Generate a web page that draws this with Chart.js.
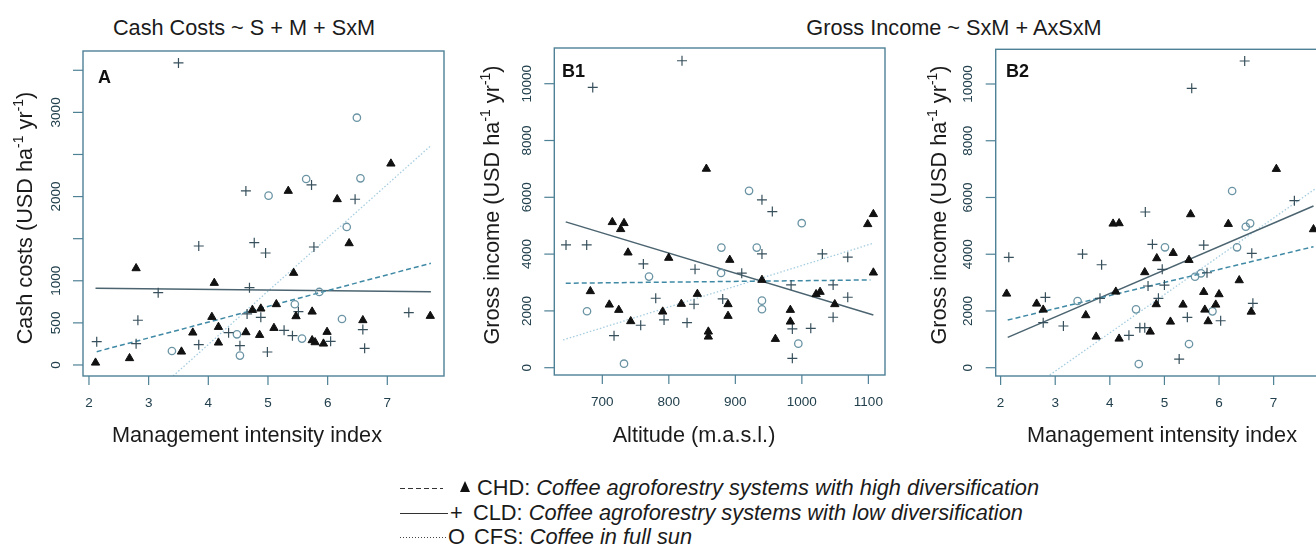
<!DOCTYPE html>
<html>
<head>
<meta charset="utf-8">
<script src="https://cdn.jsdelivr.net/npm/chart.js@4.4.1/dist/chart.umd.min.js"></script>
<style>
  body { margin: 0; width: 1316px; height: 547px; overflow: hidden; position: relative; background: #fff;
         font-family: "Liberation Sans", Arial, sans-serif; color: #1b1b1b; }
  canvas { position: absolute; top: 0; }
  .main-title { position: absolute; top: 15px; font-size: 21.7px; white-space: nowrap; transform: translateX(-50%); }
  .leg-line { position: absolute; height: 1.4px; }
  .leg-text { position: absolute; font-size: 21.8px; line-height: 24px; white-space: nowrap; }
  .tri { position: absolute; width: 0; height: 0; border-left: 5.5px solid transparent; border-right: 5.5px solid transparent; border-bottom: 11px solid #111; }
</style>
</head>
<body>
<div class="main-title" style="left:244px">Cash Costs ~ S + M + SxM</div>
<div class="main-title" style="left:954px">Gross Income ~ SxM + AxSxM</div>

<canvas id="panelA" width="460" height="460" style="left:0"></canvas>
<canvas id="panelB1" width="430" height="460" style="left:470px"></canvas>
<canvas id="panelB2" width="460" height="460" style="left:900px"></canvas>

<!-- legend -->
<div class="leg-line" style="left:400px; top:488px; width:43px; background:repeating-linear-gradient(to right,#333 0 5px,transparent 5px 8px)"></div>
<div class="tri" style="left:460px; top:481px"></div>
<div class="leg-text" style="left:477px; top:476px">CHD: <i>Coffee agroforestry systems with high diversification</i></div>
<div class="leg-line" style="left:400px; top:513px; width:48px; background:#333"></div>
<div class="leg-text" style="left:450px; top:501px">+</div>
<div class="leg-text" style="left:473px; top:501px">CLD: <i>Coffee agroforestry systems with low diversification</i></div>
<div class="leg-line" style="left:400px; top:537px; width:47px; background:repeating-linear-gradient(to right,#444 0 1.5px,transparent 1.5px 3px)"></div>
<div class="leg-text" style="left:448px; top:525px">O</div>
<div class="leg-text" style="left:474px; top:525px">CFS: <i>Coffee in full sun</i></div>

<script>
// ---- Panel A: cash costs (USD/ha/yr) vs management intensity index ----
const cashChd = [[2.11,27],[2.68,80],[2.79,1148],[3.55,158],[3.74,384],[4.06,570],[4.10,974],[4.17,451],[4.17,265],[4.63,388],[4.74,653],[4.86,356],[4.88,669],[5.10,439],[5.14,721],[5.34,2067],[5.43,1093],[5.47,578],[5.74,633],[5.74,293],[5.79,269],[5.93,253],[5.99,392],[6.16,1968],[6.36,1445],[6.59,531],[7.06,2391],[7.72,582]];
const cashCld = [[2.13,277],[2.79,253],[2.82,531],[3.16,859],[3.50,3587],[3.84,1413],[3.84,241],[4.34,384],[4.53,229],[4.63,2067],[4.65,606],[4.69,918],[4.77,1453],[4.88,566],[4.96,1330],[4.99,154],[5.27,412],[5.41,348],[5.51,633],[5.73,2138],[5.77,1401],[6.05,281],[6.46,1968],[6.59,420],[6.62,198],[7.36,622]];
const cashCfs = [[3.39,166],[4.48,364],[4.53,111],[5.01,2011],[5.45,721],[5.57,313],[5.64,2209],[5.86,867],[6.24,546],[6.32,1639],[6.49,2937],[6.55,2217]];
const cashFitChd = [[2.13,158],[7.73,1208]];
const cashFitCld = [[2.11,911],[7.73,871]];
const cashFitCfs = [[3.41,-131],[7.73,2606]];

// ---- Panel B1: gross income vs altitude ----
const altChd = [[682,2692],[710.5,2220],[715,5124],[724.7,2033],[727.6,4877],[732.6,5089],[738.6,4053],[742.7,1635],[790.8,1973],[799.8,3866],[818.8,2245],[842.9,2597],[856.4,7002],[859.4,1269],[859.4,1092],[889,2234],[889,1822],[891.6,3795],[940,3090],[960.2,1011],[982.7,2033],[982.7,1621],[1021.4,2587],[1027.4,2668],[1049.5,2234],[1099,5053],[1107.5,5406],[1107.5,3348]];
const altCld = [[645.4,4324],[676.5,4324],[685.6,9868],[717.6,1128],[757.7,1494],[761.7,3654],[780.3,2445],[792.8,1681],[819.8,10808],[827.4,1586],[837.9,2234],[839.4,3467],[881,2421],[909.6,3327],[940,5910],[940,4007],[955.6,5498],[983.8,2914],[985.7,1364],[985.7,331],[1013.4,1388],[1030.8,4007],[1047,2914],[1047,1776],[1069,3890],[1069,2481]];
const altCfs = [[677,1987],[732.6,141],[770.2,3207],[878.5,3337],[879,4229],[920.6,6227],[932.2,4229],[940,2361],[940,2058],[994.7,846],[999.8,5088]];
const altFitChd = [[645,2974],[1103,3090]];
const altFitCld = [[645,5134],[1107.5,1856]];
const altFitCfs = [[641,976],[1107.5,4384]];

// ---- Panel B2: gross income vs management intensity index ----
const incChd = [[2.11,2608],[2.66,2256],[2.78,2044],[3.56,1847],[3.75,1093],[4.06,5076],[4.11,2679],[4.17,5090],[4.17,1022],[4.64,3363],[4.74,1269],[4.85,2235],[4.86,3856],[5.11,1621],[5.16,4043],[5.34,2221],[5.45,3796],[5.48,5407],[5.72,2668],[5.74,2044],[5.80,1635],[5.94,2221],[6.00,2587],[6.17,5065],[6.37,3080],[6.59,1973],[7.05,7004],[7.73,4878]];
const incCld = [[2.15,3891],[2.78,1586],[2.82,2481],[3.15,1470],[3.50,4007],[3.82,2445],[3.85,3630],[4.35,1142],[4.55,1410],[4.64,1410],[4.65,5488],[4.70,2880],[4.78,4349],[4.89,2445],[4.96,3467],[5.00,2914],[5.27,306],[5.42,1776],[5.50,9849],[5.72,4324],[5.78,3348],[6.03,1656],[6.47,10811],[6.60,4031],[6.62,2269],[7.38,5886]];
const incCfs = [[3.41,2351],[4.48,2058],[4.53,130],[5.01,4244],[5.45,835],[5.56,3207],[5.67,3327],[5.88,1987],[6.24,6228],[6.33,4244],[6.49,4969],[6.57,5089]];
const incFitChd = [[2.13,1681],[7.73,4265]];
const incFitCld = [[2.13,1071],[7.73,5698]];
const incFitCfs = [[2.90,-257],[7.95,6559]];

// tick positions
const mgmtTicks = [2, 3, 4, 5, 6, 7];
const altTicks = [700, 800, 900, 1000, 1100];
const cashTicks = [0, 500, 1000, 1500, 2000, 2500, 3000, 3500];
const cashTickLabels = [0, 500, 1000, 2000, 3000];
const incomeTicks = [0, 2000, 4000, 6000, 8000, 10000];

const FONT = '"Liberation Sans", Arial, sans-serif';
const BOX_COLOR = '#4e8196';
const TICK_TEXT = '#22404d';

const toXY = (arr) => arr.map(([x, y]) => ({ x, y }));

// draws an R-style box, ticks, labels and titles around the chart area
const rAxes = {
  id: 'rAxes',
  afterDraw(chart, args, o) {
    const { ctx, chartArea: a, scales: { x, y } } = chart;
    ctx.save();
    ctx.strokeStyle = BOX_COLOR;
    ctx.lineWidth = 1.4;
    ctx.strokeRect(a.left, a.top, a.right - a.left, a.bottom - a.top);

    ctx.lineWidth = 1.2;
    ctx.fillStyle = TICK_TEXT;
    ctx.font = `13.5px ${FONT}`;
    ctx.textAlign = 'center';
    ctx.textBaseline = 'middle';
    o.xTicks.forEach(v => {
      const px = x.getPixelForValue(v);
      ctx.beginPath(); ctx.moveTo(px, a.bottom); ctx.lineTo(px, a.bottom + 9); ctx.stroke();
      ctx.fillText(String(v), px, a.bottom + 27);
    });
    o.yTicks.forEach(v => {
      const py = y.getPixelForValue(v);
      ctx.beginPath(); ctx.moveTo(a.left - 10, py); ctx.lineTo(a.left, py); ctx.stroke();
      if (o.yLabels.includes(v)) {
        ctx.save();
        ctx.translate(a.left - 27, py);
        ctx.rotate(-Math.PI / 2);
        ctx.fillText(String(v), 0, 0);
        ctx.restore();
      }
    });

    // axis titles
    ctx.fillStyle = '#1b1b1b';
    ctx.font = `21.7px ${FONT}`;
    ctx.fillText(o.xTitle, o.xTitleX, 436);

    ctx.save();
    ctx.translate(o.yTitleX, o.yTitleY);
    ctx.rotate(-Math.PI / 2);
    const segs = o.yTitle;
    const fontFor = s => s.sup ? `14px ${FONT}` : `21.7px ${FONT}`;
    let total = 0;
    segs.forEach(s => { ctx.font = fontFor(s); total += ctx.measureText(s.t).width; });
    let cx = -total / 2;
    ctx.textAlign = 'left';
    segs.forEach(s => {
      ctx.font = fontFor(s);
      ctx.fillText(s.t, cx, s.sup ? -7 : 0);
      cx += ctx.measureText(s.t).width;
    });
    ctx.restore();

    // panel letter
    ctx.font = `bold 18px ${FONT}`;
    ctx.textAlign = 'left';
    ctx.fillStyle = '#111';
    ctx.fillText(o.panel, o.panelX, o.panelY);
    ctx.restore();
  }
};

function incomeTitle() {
  return [{ t: 'Gross income (USD ha' }, { t: '-1', sup: true }, { t: ' yr' }, { t: '-1', sup: true }, { t: ')' }];
}

function makePanel(id, pts, fits, axes, pad, axisOpts) {
  const datasets = [
    { label: 'CHD', data: toXY(pts[0]), pointStyle: 'triangle', pointRadius: 4.8,
      backgroundColor: '#111', borderColor: '#111', borderWidth: 1 },
    { label: 'CLD', data: toXY(pts[1]), pointStyle: 'cross', pointRadius: 5,
      borderColor: '#37505c', borderWidth: 1.2 },
    { label: 'CFS', data: toXY(pts[2]), pointStyle: 'circle', pointRadius: 3.7,
      backgroundColor: 'rgba(0,0,0,0)', borderColor: '#6a94a4', borderWidth: 1.3 },
    { label: 'CHD fit', data: toXY(fits[0]), showLine: true, pointRadius: 0,
      borderColor: '#3f89a5', borderWidth: 1.5, borderDash: [5, 3] },
    { label: 'CLD fit', data: toXY(fits[1]), showLine: true, pointRadius: 0,
      borderColor: '#4b6470', borderWidth: 1.5 },
    { label: 'CFS fit', data: toXY(fits[2]), showLine: true, pointRadius: 0,
      borderColor: '#a6cde0', borderWidth: 1.3, borderDash: [1.5, 2] }
  ];
  new Chart(document.getElementById(id), {
    type: 'scatter',
    data: { datasets },
    options: {
      responsive: false,
      devicePixelRatio: 1,
      animation: false,
      events: [],
      layout: { padding: pad },
      scales: {
        x: { type: 'linear', display: false, min: axes[0], max: axes[1] },
        y: { type: 'linear', display: false, min: axes[2], max: axes[3] }
      },
      plugins: { legend: { display: false }, tooltip: { enabled: false }, rAxes: axisOpts }
    },
    plugins: [rAxes]
  });
}

makePanel('panelA', [cashChd, cashCld, cashCfs], [cashFitChd, cashFitCld, cashFitCfs],
  [1.9, 7.95, -131, 3729], { left: 83, top: 51, right: 16, bottom: 84 },
  { xTicks: mgmtTicks, yTicks: cashTicks, yLabels: cashTickLabels,
    xTitle: 'Management intensity index', xTitleX: 247,
    yTitle: [{ t: 'Cash costs (USD ha' }, { t: '-1', sup: true }, { t: ' yr' }, { t: '-1', sup: true }, { t: ')' }],
    yTitleX: 26, yTitleY: 218, panel: 'A', panelX: 98, panelY: 78 });

makePanel('panelB1', [altChd, altCld, altCfs], [altFitChd, altFitCld, altFitCfs],
  [627.8, 1125, -257, 11257], { left: 84.3, top: 48, right: 15, bottom: 85 },
  { xTicks: altTicks, yTicks: incomeTicks, yLabels: incomeTicks,
    xTitle: 'Altitude (m.a.s.l.)', xTitleX: 224,
    yTitle: incomeTitle(), yTitleX: 23, yTitleY: 205, panel: 'B1', panelX: 92, panelY: 72 });

makePanel('panelB2', [incChd, incCld, incCfs], [incFitChd, incFitCld, incFitCfs],
  [1.91, 7.95, -292, 11223], { left: 95.7, top: 49.3, right: 34.5, bottom: 84 },
  { xTicks: mgmtTicks, yTicks: incomeTicks, yLabels: incomeTicks,
    xTitle: 'Management intensity index', xTitleX: 262,
    yTitle: incomeTitle(), yTitleX: 40, yTitleY: 205, panel: 'B2', panelX: 106, panelY: 72 });
</script>
</body>
</html>
